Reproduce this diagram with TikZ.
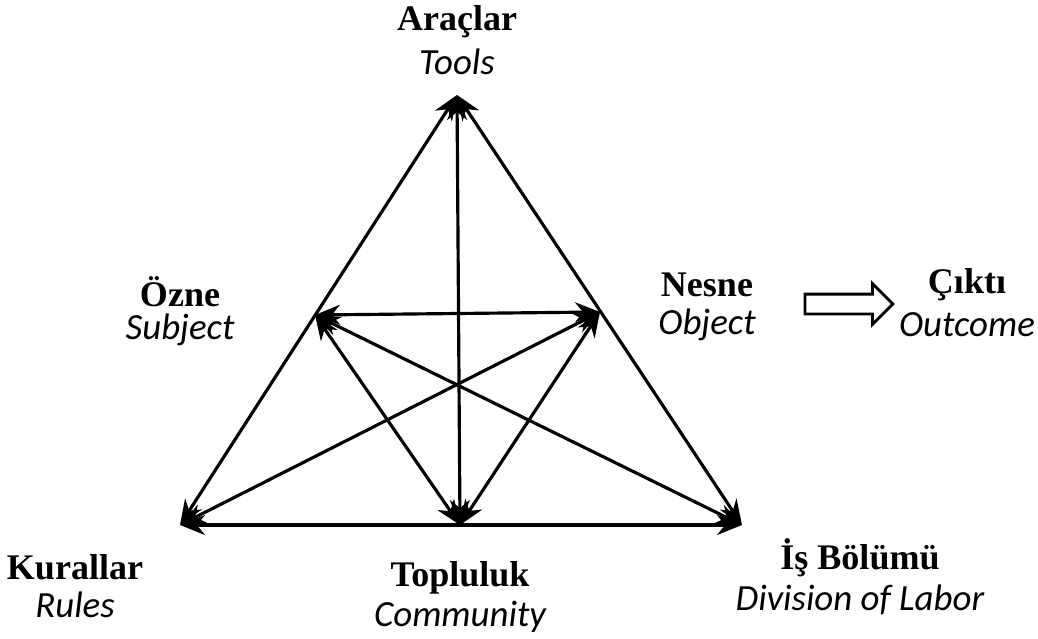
\documentclass[tikz,border=0pt]{standalone}
\usepackage{fontspec}
\setmainfont{Liberation Serif}
\newfontfamily\engfont{Carlito}
\usetikzlibrary{arrows.meta, shapes.arrows}
\tikzset{
  link/.style={{Stealth[length=5mm,width=4mm]}-{Stealth[length=5mm,width=4mm]}, line width=1.8pt, color=black},
  trk/.style={font=\fontsize{20.5}{24}\selectfont\bfseries, inner sep=1pt},
  eng/.style={font=\fontsize{21}{24}\selectfont\engfont\itshape, inner sep=1pt},
  hollow/.style={single arrow, draw, line width=1.6pt, minimum height=17.6mm,
                 single arrow head extend=2.1mm, inner sep=1.7mm},
}
\begin{document}
\begin{tikzpicture}[x=0.02cm,y=-0.02cm]
\useasboundingbox (0,0) rectangle (1038,639);
% triangle corners and side midpoints
\coordinate (tools) at (457,95);
\coordinate (rules) at (180,525);
\coordinate (labor) at (742,525);
\coordinate (comm) at (460,525);
\coordinate (subj) at (315,315);
\coordinate (obj) at (600,312);
% outer sides
\draw[link] (tools)--(rules);
\draw[link] (tools)--(labor);
\draw[link] (rules)--(labor);
% inner links
\draw[link] (tools)--(comm);
\draw[link] (subj)--(obj);
\draw[link] (subj)--(comm);
\draw[link] (obj)--(comm);
\draw[link] (subj)--(labor);
\draw[link] (obj)--(rules);
% labels
\node[trk] (aracT) at (457,22) {Araçlar};
\node[eng] (aracE) at (457,62) {Tools};
\node[trk] (ozneT) at (180,292) {Özne};
\node[eng] (ozneE) at (180,330) {Subject};
\node[trk] (nesneT) at (707,285) {Nesne};
\node[eng] (nesneE) at (707,325) {Object};
\node[trk] (cikT) at (967,285) {Çıktı};
\node[eng] (cikE) at (967,325) {Outcome};
\node[trk] (kurT) at (75,567) {Kurallar};
\node[eng] (kurE) at (75,605) {Rules};
\node[trk] (topT) at (460,578) {Topluluk};
\node[eng] (topE) at (460,617) {Community};
\node[trk] (isT) at (860,558) {İş Bölümü};
\node[eng] (isE) at (860,600) {Division of Labor};
\node[hollow] (out) at (844,304) {};
\end{tikzpicture}
\end{document}
